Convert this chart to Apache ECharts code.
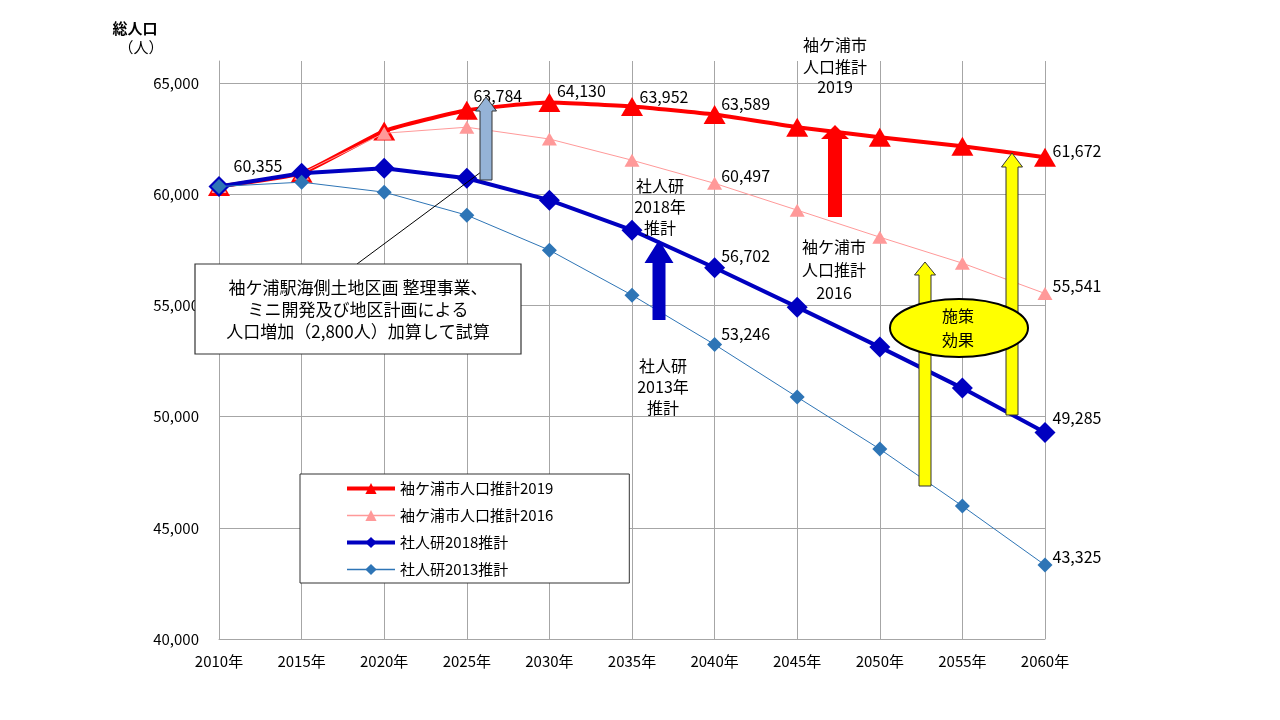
<!DOCTYPE html>
<html><head><meta charset="utf-8">
<script src="https://cdn.jsdelivr.net/npm/echarts@6/dist/echarts.min.js"></script>
<style>html,body{margin:0;padding:0;background:#fff}#c{width:1280px;height:720px}</style>
</head><body><div id="c"></div>
<script>
const years = ['2010年','2015年','2020年','2025年','2030年','2035年','2040年','2045年','2050年','2055年','2060年'];
const city2019 = [60355, 60952, 62850, 63784, 64130, 63952, 63589, 63022, 62572, 62167, 61672];
const city2016 = [60355, 60952, 62750, 63022, 62490, 61537, 60497, 59290, 58076, 56906, 55541];
const ipss2018 = [60355, 60952, 61178, 60728, 59739, 58390, 56702, 54928, 53130, 51286, 49285];
const ipss2013 = [60355, 60550, 60099, 59065, 57491, 55468, 53246, 50881, 48543, 45980, 43325];
const seriesNames = ['袖ケ浦市人口推計2019','袖ケ浦市人口推計2016','社人研2018推計','社人研2013推計'];
const yTicks = [40000, 45000, 50000, 55000, 60000, 65000];

const FONT = '"Noto Sans CJK JP", "DejaVu Sans", sans-serif';
const fmt = v => v.toLocaleString('en-US');

// which points carry a data label, and the label offset
const labelCfg = [
  {0:[39,-21], 3:[31,-14], 4:[32,-12], 5:[32,-10], 6:[31,-11], 10:[32,-6]},
  {6:[31,-7], 10:[32,-8]},
  {6:[31,-12], 10:[32,-15]},
  {6:[31,-11], 10:[32,-8]}
];
function withLabels(vals, cfg){
  return vals.map((v,i)=> cfg[i] ? {value:v, label:{show:true, position:'inside', offset:cfg[i],
    formatter: p=>fmt(p.value), color:'#000', fontSize:16, fontFamily:FONT}} : v);
}

const chart = echarts.init(document.getElementById('c'), null, {renderer:'canvas'});

function arrow(cx, tipY, baseY, bottomY, shaftW, headW){
  return [[cx, tipY],[cx+headW/2, baseY],[cx+shaftW/2, baseY],[cx+shaftW/2, bottomY],
          [cx-shaftW/2, bottomY],[cx-shaftW/2, baseY],[cx-headW/2, baseY]];
}
function txt(x, y, t, size, weight){
  return {type:'text', z:100, style:{text:t, x:x, y:y, textAlign:'center', textVerticalAlign:'middle',
    fontSize:size||16, fontWeight:weight||'normal', fontFamily:FONT, fill:'#000'}};
}

const option = {
  animation:false,
  backgroundColor:'#fff',
  textStyle:{fontFamily:FONT},
  grid:{left:219, right:235, top:61, bottom:81, containLabel:false},
  xAxis:{type:'category', data:years, boundaryGap:false,
    axisLine:{lineStyle:{color:'#A6A6A6'}}, axisTick:{show:false},
    axisLabel:{color:'#000', fontSize:15, fontFamily:FONT, margin:15},
    splitLine:{show:true, lineStyle:{color:'#A6A6A6', width:1}}},
  yAxis:{type:'value', min:yTicks[0], max:66000, interval:5000,
    axisLine:{show:true, lineStyle:{color:'#A6A6A6'}}, axisTick:{show:false},
    axisLabel:{color:'#000', fontSize:15, fontFamily:FONT, margin:20, showMaxLabel:false,
      formatter:v=> yTicks.includes(v) ? fmt(v) : ''},
    splitLine:{show:true, showMaxLine:false, lineStyle:{color:'#A6A6A6', width:1}}},
  legend:{orient:'vertical', left:300, top:474, backgroundColor:'#fff', borderColor:'#333', borderWidth:1,
    padding:[7,76,6,45], itemGap:12, itemWidth:48, itemHeight:14,
    textStyle:{fontSize:15, fontFamily:FONT, color:'#000'},
    data:[
      {name:seriesNames[0], lineStyle:{width:4}},
      {name:seriesNames[1], lineStyle:{width:1.5}},
      {name:seriesNames[2], lineStyle:{width:4}},
      {name:seriesNames[3], lineStyle:{width:1.5}}
    ]},
  series:[
    {name:seriesNames[0], type:'line', data:withLabels(city2019,labelCfg[0]), smooth:0.15,
      symbol:'triangle', symbolSize:[22,19], itemStyle:{color:'#FF0000'}, lineStyle:{color:'#FF0000', width:4}, z:2},
    {name:seriesNames[1], type:'line', data:withLabels(city2016,labelCfg[1]),
      symbol:'triangle', symbolSize:[15,13], itemStyle:{color:'#FF9999'}, lineStyle:{color:'#FF9999', width:1}, z:3},
    {name:seriesNames[2], type:'line', data:withLabels(ipss2018,labelCfg[2]),
      symbol:'diamond', symbolSize:[21,21], itemStyle:{color:'#0000C0'}, lineStyle:{color:'#0000C0', width:4}, z:4},
    {name:seriesNames[3], type:'line', data:withLabels(ipss2013,labelCfg[3]),
      symbol:'diamond', symbolSize:[15,15], itemStyle:{color:'#2E75B6'}, lineStyle:{color:'#2E75B6', width:1}, z:5}
  ],
  graphic:[
    txt(135, 28, '総人口', 15, 'bold'),
    txt(141, 47, '（人）', 15),
    // leader line and note box
    {type:'line', z:90, shape:{x1:357, y1:264, x2:481, y2:172}, style:{stroke:'#000', lineWidth:1}},
    {type:'rect', z:95, shape:{x:195, y:264, width:326, height:90}, style:{fill:'#fff', stroke:'#333', lineWidth:1.2}},
    txt(358, 288, '袖ケ浦駅海側土地区画 整理事業、', 17),
    txt(358, 310, 'ミニ開発及び地区計画による', 17),
    txt(358, 332, '人口増加（2,800人）加算して試算', 17),
    // arrows
    {type:'polygon', z:96, shape:{points:arrow(486, 97, 111, 180, 12, 21)}, style:{fill:'#95B3D7', stroke:'#333', lineWidth:1}},
    {type:'polygon', z:96, shape:{points:arrow(835, 125, 139, 217, 14, 28)}, style:{fill:'#FF0000'}},
    {type:'polygon', z:96, shape:{points:arrow(659, 240, 263, 320, 13, 29)}, style:{fill:'#0000C0'}},
    {type:'polygon', z:96, shape:{points:arrow(925, 262, 275, 486, 12, 21)}, style:{fill:'#FFFF00', stroke:'#333', lineWidth:1}},
    {type:'polygon', z:96, shape:{points:arrow(1012, 153, 167, 415, 12, 21)}, style:{fill:'#FFFF00', stroke:'#333', lineWidth:1}},
    {type:'ellipse', z:98, shape:{cx:959, cy:328, rx:69, ry:29}, style:{fill:'#FFFF00', stroke:'#000', lineWidth:2}},
    txt(958, 316, '施策'),
    txt(958, 340, '効果'),
    // series annotations
    txt(835, 45, '袖ケ浦市'), txt(835, 67, '人口推計'), txt(835, 87, '2019'),
    txt(660, 186, '社人研'), txt(660, 207, '2018年'), txt(660, 228, '推計'),
    txt(834, 247, '袖ケ浦市'), txt(834, 270, '人口推計'), txt(834, 293, '2016'),
    txt(663, 366, '社人研'), txt(663, 387, '2013年'), txt(663, 408, '推計')
  ]
};
chart.setOption(option);
</script>
</body></html>
